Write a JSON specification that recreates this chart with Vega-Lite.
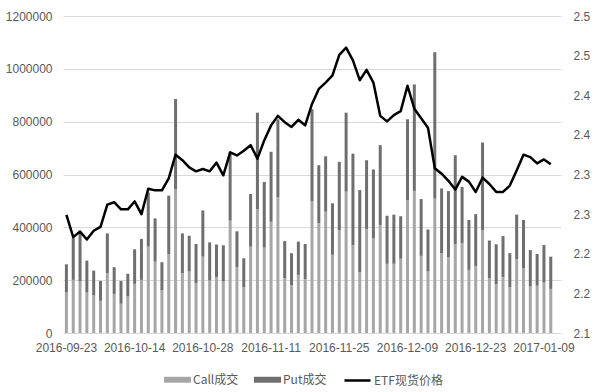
{
  "$schema": "https://vega.github.io/schema/vega-lite/v6.json",
  "width": 498,
  "height": 317,
  "autosize": "none",
  "padding": {"left": 63, "top": 16, "right": 39, "bottom": 59},
  "background": "white",
  "config": {
    "view": {"stroke": null},
    "axis": {"labelFont": "Liberation Sans", "labelFontSize": 12, "labelColor": "#595959", "title": null, "ticks": false, "tickSize": 0, "domain": false}
  },
  "data": {
    "values": [
      {"date": "2016-09-23", "call": 153000, "put": 107000, "etf": 2.249},
      {"date": "2016-09-26", "call": 201000, "put": 161000, "etf": 2.221},
      {"date": "2016-09-27", "call": 195000, "put": 180000, "etf": 2.228},
      {"date": "2016-09-28", "call": 153000, "put": 121000, "etf": 2.218},
      {"date": "2016-09-29", "call": 142000, "put": 94000, "etf": 2.229},
      {"date": "2016-09-30", "call": 122000, "put": 75000, "etf": 2.234},
      {"date": "2016-10-10", "call": 226000, "put": 151000, "etf": 2.262},
      {"date": "2016-10-11", "call": 148000, "put": 101000, "etf": 2.265},
      {"date": "2016-10-12", "call": 111000, "put": 86000, "etf": 2.256},
      {"date": "2016-10-13", "call": 138000, "put": 86000, "etf": 2.256},
      {"date": "2016-10-14", "call": 186000, "put": 131000, "etf": 2.266},
      {"date": "2016-10-17", "call": 201000, "put": 155000, "etf": 2.250},
      {"date": "2016-10-18", "call": 327000, "put": 205000, "etf": 2.282},
      {"date": "2016-10-19", "call": 270000, "put": 164000, "etf": 2.280},
      {"date": "2016-10-20", "call": 161000, "put": 107000, "etf": 2.280},
      {"date": "2016-10-21", "call": 299000, "put": 221000, "etf": 2.295},
      {"date": "2016-10-24", "call": 545000, "put": 341000, "etf": 2.325},
      {"date": "2016-10-25", "call": 226000, "put": 151000, "etf": 2.318},
      {"date": "2016-10-26", "call": 233000, "put": 135000, "etf": 2.309},
      {"date": "2016-10-27", "call": 189000, "put": 148000, "etf": 2.304},
      {"date": "2016-10-28", "call": 289000, "put": 175000, "etf": 2.307},
      {"date": "2016-10-31", "call": 199000, "put": 144000, "etf": 2.304},
      {"date": "2016-11-01", "call": 211000, "put": 124000, "etf": 2.315},
      {"date": "2016-11-02", "call": 195000, "put": 137000, "etf": 2.299},
      {"date": "2016-11-03", "call": 425000, "put": 259000, "etf": 2.328},
      {"date": "2016-11-04", "call": 249000, "put": 136000, "etf": 2.324},
      {"date": "2016-11-07", "call": 174000, "put": 109000, "etf": 2.330},
      {"date": "2016-11-08", "call": 327000, "put": 199000, "etf": 2.337},
      {"date": "2016-11-09", "call": 469000, "put": 365000, "etf": 2.320},
      {"date": "2016-11-10", "call": 323000, "put": 249000, "etf": 2.343},
      {"date": "2016-11-11", "call": 421000, "put": 265000, "etf": 2.362},
      {"date": "2016-11-14", "call": 513000, "put": 296000, "etf": 2.374},
      {"date": "2016-11-15", "call": 208000, "put": 140000, "etf": 2.366},
      {"date": "2016-11-16", "call": 181000, "put": 121000, "etf": 2.360},
      {"date": "2016-11-17", "call": 220000, "put": 126000, "etf": 2.369},
      {"date": "2016-11-18", "call": 204000, "put": 133000, "etf": 2.362},
      {"date": "2016-11-21", "call": 499000, "put": 348000, "etf": 2.389},
      {"date": "2016-11-22", "call": 415000, "put": 220000, "etf": 2.408},
      {"date": "2016-11-23", "call": 459000, "put": 210000, "etf": 2.416},
      {"date": "2016-11-24", "call": 296000, "put": 195000, "etf": 2.425},
      {"date": "2016-11-25", "call": 390000, "put": 258000, "etf": 2.451},
      {"date": "2016-11-28", "call": 535000, "put": 299000, "etf": 2.460},
      {"date": "2016-11-29", "call": 333000, "put": 346000, "etf": 2.444},
      {"date": "2016-11-30", "call": 230000, "put": 311000, "etf": 2.419},
      {"date": "2016-12-01", "call": 394000, "put": 260000, "etf": 2.432},
      {"date": "2016-12-02", "call": 359000, "put": 260000, "etf": 2.416},
      {"date": "2016-12-05", "call": 409000, "put": 302000, "etf": 2.374},
      {"date": "2016-12-06", "call": 262000, "put": 182000, "etf": 2.367},
      {"date": "2016-12-07", "call": 262000, "put": 186000, "etf": 2.375},
      {"date": "2016-12-08", "call": 281000, "put": 161000, "etf": 2.380},
      {"date": "2016-12-09", "call": 503000, "put": 306000, "etf": 2.412},
      {"date": "2016-12-12", "call": 538000, "put": 403000, "etf": 2.383},
      {"date": "2016-12-13", "call": 292000, "put": 215000, "etf": 2.371},
      {"date": "2016-12-14", "call": 233000, "put": 159000, "etf": 2.359},
      {"date": "2016-12-15", "call": 509000, "put": 554000, "etf": 2.308},
      {"date": "2016-12-16", "call": 302000, "put": 245000, "etf": 2.301},
      {"date": "2016-12-19", "call": 286000, "put": 251000, "etf": 2.292},
      {"date": "2016-12-20", "call": 337000, "put": 336000, "etf": 2.281},
      {"date": "2016-12-21", "call": 340000, "put": 213000, "etf": 2.297},
      {"date": "2016-12-22", "call": 239000, "put": 189000, "etf": 2.291},
      {"date": "2016-12-23", "call": 254000, "put": 196000, "etf": 2.278},
      {"date": "2016-12-26", "call": 390000, "put": 331000, "etf": 2.296},
      {"date": "2016-12-27", "call": 208000, "put": 142000, "etf": 2.288},
      {"date": "2016-12-28", "call": 185000, "put": 151000, "etf": 2.278},
      {"date": "2016-12-29", "call": 211000, "put": 156000, "etf": 2.278},
      {"date": "2016-12-30", "call": 174000, "put": 128000, "etf": 2.286},
      {"date": "2017-01-03", "call": 279000, "put": 169000, "etf": 2.305},
      {"date": "2017-01-04", "call": 245000, "put": 183000, "etf": 2.325},
      {"date": "2017-01-05", "call": 176000, "put": 138000, "etf": 2.322},
      {"date": "2017-01-06", "call": 179000, "put": 120000, "etf": 2.314},
      {"date": "2017-01-09", "call": 191000, "put": 142000, "etf": 2.319},
      {"date": "2017-01-10", "call": 167000, "put": 122000, "etf": 2.313}
    ]
  },
  "layer": [
    {
      "transform": [{"fold": ["call", "put"], "as": ["type", "volume"]}],
      "mark": {"type": "bar"},
      "encoding": {
        "x": {
          "field": "date", "type": "ordinal",
          "scale": {
            "domain": ["2016-09-23","2016-09-26","2016-09-27","2016-09-28","2016-09-29","2016-09-30","2016-10-10","2016-10-11","2016-10-12","2016-10-13","2016-10-14","2016-10-17","2016-10-18","2016-10-19","2016-10-20","2016-10-21","2016-10-24","2016-10-25","2016-10-26","2016-10-27","2016-10-28","2016-10-31","2016-11-01","2016-11-02","2016-11-03","2016-11-04","2016-11-07","2016-11-08","2016-11-09","2016-11-10","2016-11-11","2016-11-14","2016-11-15","2016-11-16","2016-11-17","2016-11-18","2016-11-21","2016-11-22","2016-11-23","2016-11-24","2016-11-25","2016-11-28","2016-11-29","2016-11-30","2016-12-01","2016-12-02","2016-12-05","2016-12-06","2016-12-07","2016-12-08","2016-12-09","2016-12-12","2016-12-13","2016-12-14","2016-12-15","2016-12-16","2016-12-19","2016-12-20","2016-12-21","2016-12-22","2016-12-23","2016-12-26","2016-12-27","2016-12-28","2016-12-29","2016-12-30","2017-01-03","2017-01-04","2017-01-05","2017-01-06","2017-01-09","2017-01-10","2017-01-11"],
            "paddingInner": 0.56, "paddingOuter": 0.28
          },
          "axis": {
            "values": ["2016-09-23","2016-10-14","2016-10-28","2016-11-11","2016-11-25","2016-12-09","2016-12-23","2017-01-09"],
            "labelAngle": 0, "labelPadding": 9, "grid": false
          }
        },
        "y": {
          "field": "volume", "type": "quantitative", "stack": "zero",
          "scale": {"domain": [0, 1200000], "nice": false},
          "axis": {"values": [0, 200000, 400000, 600000, 800000, 1000000, 1200000], "format": "d", "grid": true, "gridColor": "#d9d9d9", "gridWidth": 1, "labelPadding": 11}
        },
        "order": {"field": "type", "type": "nominal", "sort": "ascending"},
        "color": {
          "field": "type", "type": "nominal",
          "scale": {"domain": ["call", "put"], "range": ["#a6a6a6", "#6f6f6f"]},
          "legend": {
            "orient": "none", "legendX": 101, "legendY": 350, "direction": "horizontal", "title": null,
            "symbolType": "M-1,-0.22H1V0.22H-1Z", "symbolSize": 729, "symbolStrokeWidth": 0,
            "labelExpr": "datum.label == 'call' ? 'Call成交' : 'Put成交'",
            "labelOffset": 2, "columnPadding": 15, "padding": 0,
            "labelFont": "Noto Sans CJK SC", "labelFontSize": 12, "labelColor": "#595959"
          }
        }
      }
    },
    {
      "mark": {"type": "line", "strokeWidth": 2.5, "strokeJoin": "round"},
      "encoding": {
        "x": {"field": "date", "type": "ordinal", "bandPosition": 0.5},
        "y": {
          "field": "etf", "type": "quantitative",
          "scale": {"domain": [2.1, 2.5], "nice": false, "zero": false},
          "axis": {"orient": "right", "values": [2.1, 2.15, 2.2, 2.25, 2.3, 2.35, 2.4, 2.45, 2.5], "labelExpr": "format(datum.value + 0.000001, '.1f')", "grid": false, "labelPadding": 12}
        },
        "color": {
          "datum": "ETF现货价格", "type": "nominal",
          "scale": {"range": ["#000000"]},
          "legend": {
            "orient": "none", "legendX": 280, "legendY": 350, "title": null,
            "symbolType": "stroke", "symbolSize": 676, "symbolStrokeWidth": 2.5,
            "labelOffset": 2, "padding": 0,
            "labelFont": "Noto Sans CJK SC", "labelFontSize": 12, "labelColor": "#595959"
          }
        }
      }
    }
  ],
  "resolve": {"scale": {"y": "independent", "color": "independent"}}
}
